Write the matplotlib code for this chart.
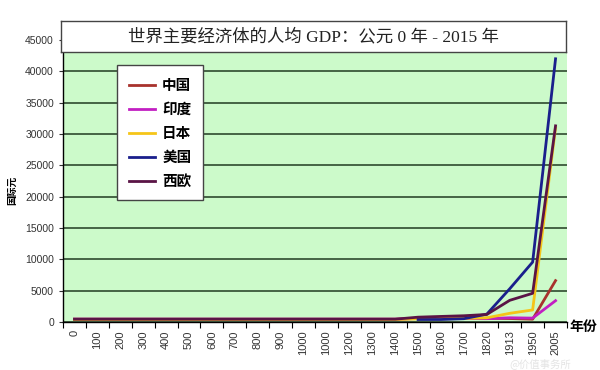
import matplotlib
matplotlib.use('Agg')
import matplotlib.pyplot as plt
import numpy as np

plt.rcParams['font.family'] = ['Liberation Sans', 'Noto Sans CJK SC', 'DejaVu Sans']

# 横轴年份（原图里 1100 写成了 1000）
years = ['0', '100', '200', '300', '400', '500', '600', '700', '800', '900',
         '1000', '1000', '1200', '1300', '1400', '1500', '1600', '1700',
         '1820', '1913', '1950', '2005']

nan = np.nan
china = [450] * 15 + [600, 600, 600, 600, 552, 448, 6600]
india = [450] * 15 + [550, 550, 550, 533, 673, 619, 3400]
japan = [400] * 15 + [500, 520, 570, 669, 1387, 1921, 31000]
usa = [nan] * 15 + [400, 400, 527, 1257, 5301, 9561, 42000]
weurope = [450] * 15 + [771, 889, 997, 1202, 3458, 4579, 31300]

names = ['中国', '印度', '日本', '美国', '西欧']
colors = ['#A8322D', '#C21FC2', '#F5C518', '#1A1F8C', '#5A1445']

fig = plt.figure(figsize=(6, 3.7), dpi=100)
ax = fig.add_axes([63/600, 1-322/370, 504/600, 282/370])
ax.set_facecolor('#CCFACA')

x = np.arange(len(years))
for data, name, c in zip([china, india, japan, usa, weurope], names, colors):
    ax.plot(x, data, color=c, lw=2, label=name, zorder=3)

ax.set_xlim(-0.5, len(years) - 0.5)
ax.set_ylim(0, 45000)
ax.set_yticks(np.arange(0, 45001, 5000))
ax.yaxis.grid(True, color='#2E4A2E', lw=1.2)
ax.set_axisbelow(True)
ax.tick_params(axis='y', labelsize=7.5, colors='#333333', length=3, width=0.8)

ax.set_xticks(x)
ax.set_xticklabels(years, rotation=90, fontsize=8, color='#333333')
ax.set_xticks(np.arange(-0.5, len(years)), minor=True)
ax.tick_params(axis='x', which='major', length=0, pad=6)
ax.tick_params(axis='x', which='minor', length=4, width=0.8)

for s in ['top', 'right']:
    ax.spines[s].set_visible(False)
for s in ['left', 'bottom']:
    ax.spines[s].set_color('black')
    ax.spines[s].set_linewidth(1.0)

fig.text(12/600, 1-190/370, '国际元', rotation=90, fontsize=7, fontweight='bold',
         ha='center', va='center', family=['Noto Sans CJK SC'])
fig.text(569/600, 1-327/370, '年份', fontsize=10, fontweight='bold',
         ha='left', va='center', family=['Noto Sans CJK SC'])

# 图例
leg = ax.legend(loc='upper left', bbox_to_anchor=((117-63)/504, 1-(65-40)/282),
                prop={'family': 'Noto Sans CJK SC', 'size': 10.5, 'weight': 'bold'},
                frameon=True, fancybox=False, framealpha=1, handlelength=1.8,
                labelspacing=0.55, borderpad=0.8, handletextpad=0.5, borderaxespad=0)
leg.get_frame().set_edgecolor('#444444')
leg.get_frame().set_linewidth(1.0)

# 标题框
tax = fig.add_axes([61/600, 1-52/370, 505/600, 31/370])
tax.set_facecolor('white')
tax.set_xticks([])
tax.set_yticks([])
for s in tax.spines.values():
    s.set_color('#444444')
    s.set_linewidth(1.0)
tax.text(0.5, 0.5, '世界主要经济体的人均 GDP：公元 0 年 - 2015 年', fontsize=12.5,
         ha='center', va='center', color='#222222',
         family=['Liberation Serif', 'Noto Sans CJK SC'])

fig.text(540/600, 1-364/370, '@价值事务所', fontsize=7.5, color='#e4e4e4',
         ha='center', va='center', family=['Noto Sans CJK SC'])

fig.savefig('out.png', dpi=100)
